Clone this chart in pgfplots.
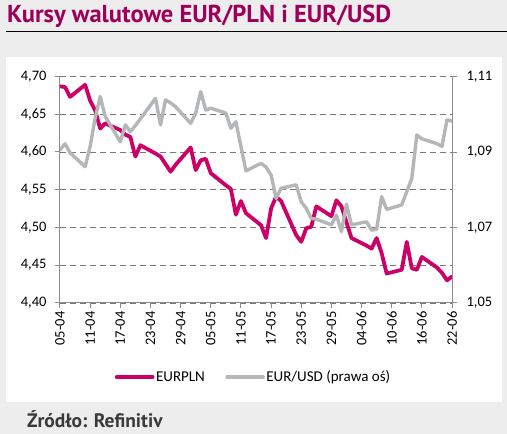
\documentclass[border=0pt]{standalone}
\usepackage{fontspec}
\setmainfont{Carlito}
\newfontfamily\headfont{PT Sans}
\usepackage{pgfplots}
\usepackage{pgfplotstable}
\pgfplotsset{compat=1.18}

\definecolor{pagebg}{RGB}{237,237,237}
\definecolor{titlecol}{RGB}{158,0,89}
\definecolor{plncol}{RGB}{204,0,102}
\definecolor{usdcol}{RGB}{180,182,184}
\definecolor{axisgray}{RGB}{140,140,140}
\definecolor{gridgray}{RGB}{120,120,120}
\definecolor{srccol}{RGB}{58,58,58}

% days counted from 05-04
\pgfplotstableread{
day pln
0 4.687
1 4.686
2 4.673
5 4.689
6 4.668
7 4.655
8 4.631
9 4.638
12 4.629
13 4.623
14 4.620
15 4.594
16 4.609
19 4.598
20 4.594
21 4.584
22 4.574
23 4.583
26 4.606
27 4.576
28 4.589
29 4.591
30 4.572
33 4.556
34 4.551
35 4.517
36 4.535
37 4.519
40 4.503
41 4.486
42 4.525
43 4.541
44 4.535
47 4.490
48 4.481
49 4.499
50 4.501
51 4.528
54 4.515
55 4.536
56 4.528
57 4.507
58 4.486
61 4.476
62 4.472
63 4.486
64 4.466
65 4.439
68 4.444
69 4.481
70 4.446
71 4.444
72 4.461
75 4.447
76 4.440
77 4.430
78 4.435
}\eurpln

\pgfplotstableread{
day usd
0 1.0905
1 1.0922
2 1.0898
5 1.0861
6 1.0915
7 1.0990
8 1.1047
9 1.0994
12 1.0927
13 1.0972
14 1.0954
15 1.0970
16 1.0988
19 1.1042
20 1.0972
21 1.1038
22 1.1030
23 1.1020
26 1.0976
27 1.1003
28 1.1060
29 1.1011
30 1.1016
33 1.1003
34 1.0963
35 1.0980
36 1.0915
37 1.0850
40 1.0870
41 1.0860
42 1.0839
43 1.0777
44 1.0804
47 1.0813
48 1.0768
49 1.0751
50 1.0724
51 1.0722
54 1.0707
55 1.0733
56 1.0689
57 1.0762
58 1.0707
61 1.0715
62 1.0693
63 1.0695
64 1.0782
65 1.0748
68 1.0760
69 1.0795
70 1.0830
71 1.0945
72 1.0935
75 1.0922
76 1.0915
77 1.0985
78 1.0982
}\eurusd

\pgfplotsset{
  panel/.style={
    scale only axis, width=392pt, height=226.5pt,
    at={(60pt,131pt)}, anchor=south west,
    xmin=0, xmax=78,
    axis line style={draw=axisgray, line width=1pt},
    tick style={draw=axisgray, line width=1pt},
    major tick length=5pt, tick align=outside,
    tick label style={font=\fontsize{14.5}{17}\selectfont, text=black},
    /pgf/number format/assume math mode=true,
    yticklabel style={/pgf/number format/fixed, /pgf/number format/fixed zerofill,
      /pgf/number format/precision=2, /pgf/number format/use comma},
  },
  pln/.style={plncol, line width=3.8pt, line join=round, line cap=round},
  usd/.style={usdcol, line width=3.4pt, line join=round, line cap=round},
}

\begin{document}
\begin{tikzpicture}[x=1pt,y=1pt]
\useasboundingbox (0,0) rectangle (507,434);
\fill[pagebg] (0,0) rectangle (507,434);
\fill[white] (6,32) rectangle (502,377);
\draw[black, line width=1.5pt] (6,402.5) -- (507,402.5);
\node[anchor=base west, inner sep=0, text=titlecol,
      font=\headfont\bfseries\fontsize{24.5}{28}\selectfont] at (7,411) {Kursy walutowe EUR/PLN i EUR/USD};
\node[anchor=base west, inner sep=0, text=srccol,
      font=\headfont\bfseries\fontsize{19.5}{23}\selectfont] at (27,6) {Źródło: Refinitiv};

\begin{axis}[panel,
    axis x line*=bottom, axis y line*=left,
    ymin=4.40, ymax=4.70,
    ytick={4.40,4.45,4.50,4.55,4.60,4.65,4.70},
    yticklabel style={xshift=-5pt},
    xtick={0,6,...,78},
    xticklabels={05-04,11-04,17-04,23-04,29-04,05-05,11-05,17-05,23-05,29-05,04-06,10-06,16-06,22-06},
    x tick label style={rotate=90, anchor=east},
    ymajorgrids,
    grid style={gridgray, line width=0.9pt, dash pattern=on 6pt off 4pt},
    legend style={at={(0.493,-0.327)}, anchor=center, draw=none, fill=none,
      font=\fontsize{15}{18}\selectfont, legend columns=2,
      /tikz/every even column/.append style={column sep=19pt},
      nodes={inner sep=1.5pt}},
    legend image code/.code={\draw[#1] (0pt,0pt) -- (36pt,0pt);},
  ]
  \addplot[pln] table[x=day, y=pln] {\eurpln};
  \addlegendentry{EURPLN}
  \addlegendimage{usd}
  \addlegendentry{EUR/USD (prawa oś)}
\end{axis}

\begin{axis}[panel,
    axis x line=none, axis y line*=right,
    ymin=1.05, ymax=1.11,
    ytick={1.05,1.07,1.09,1.11},
    yticklabel style={xshift=6pt},
  ]
  \addplot[usd] table[x=day, y=usd] {\eurusd};
\end{axis}
\end{tikzpicture}
\end{document}
